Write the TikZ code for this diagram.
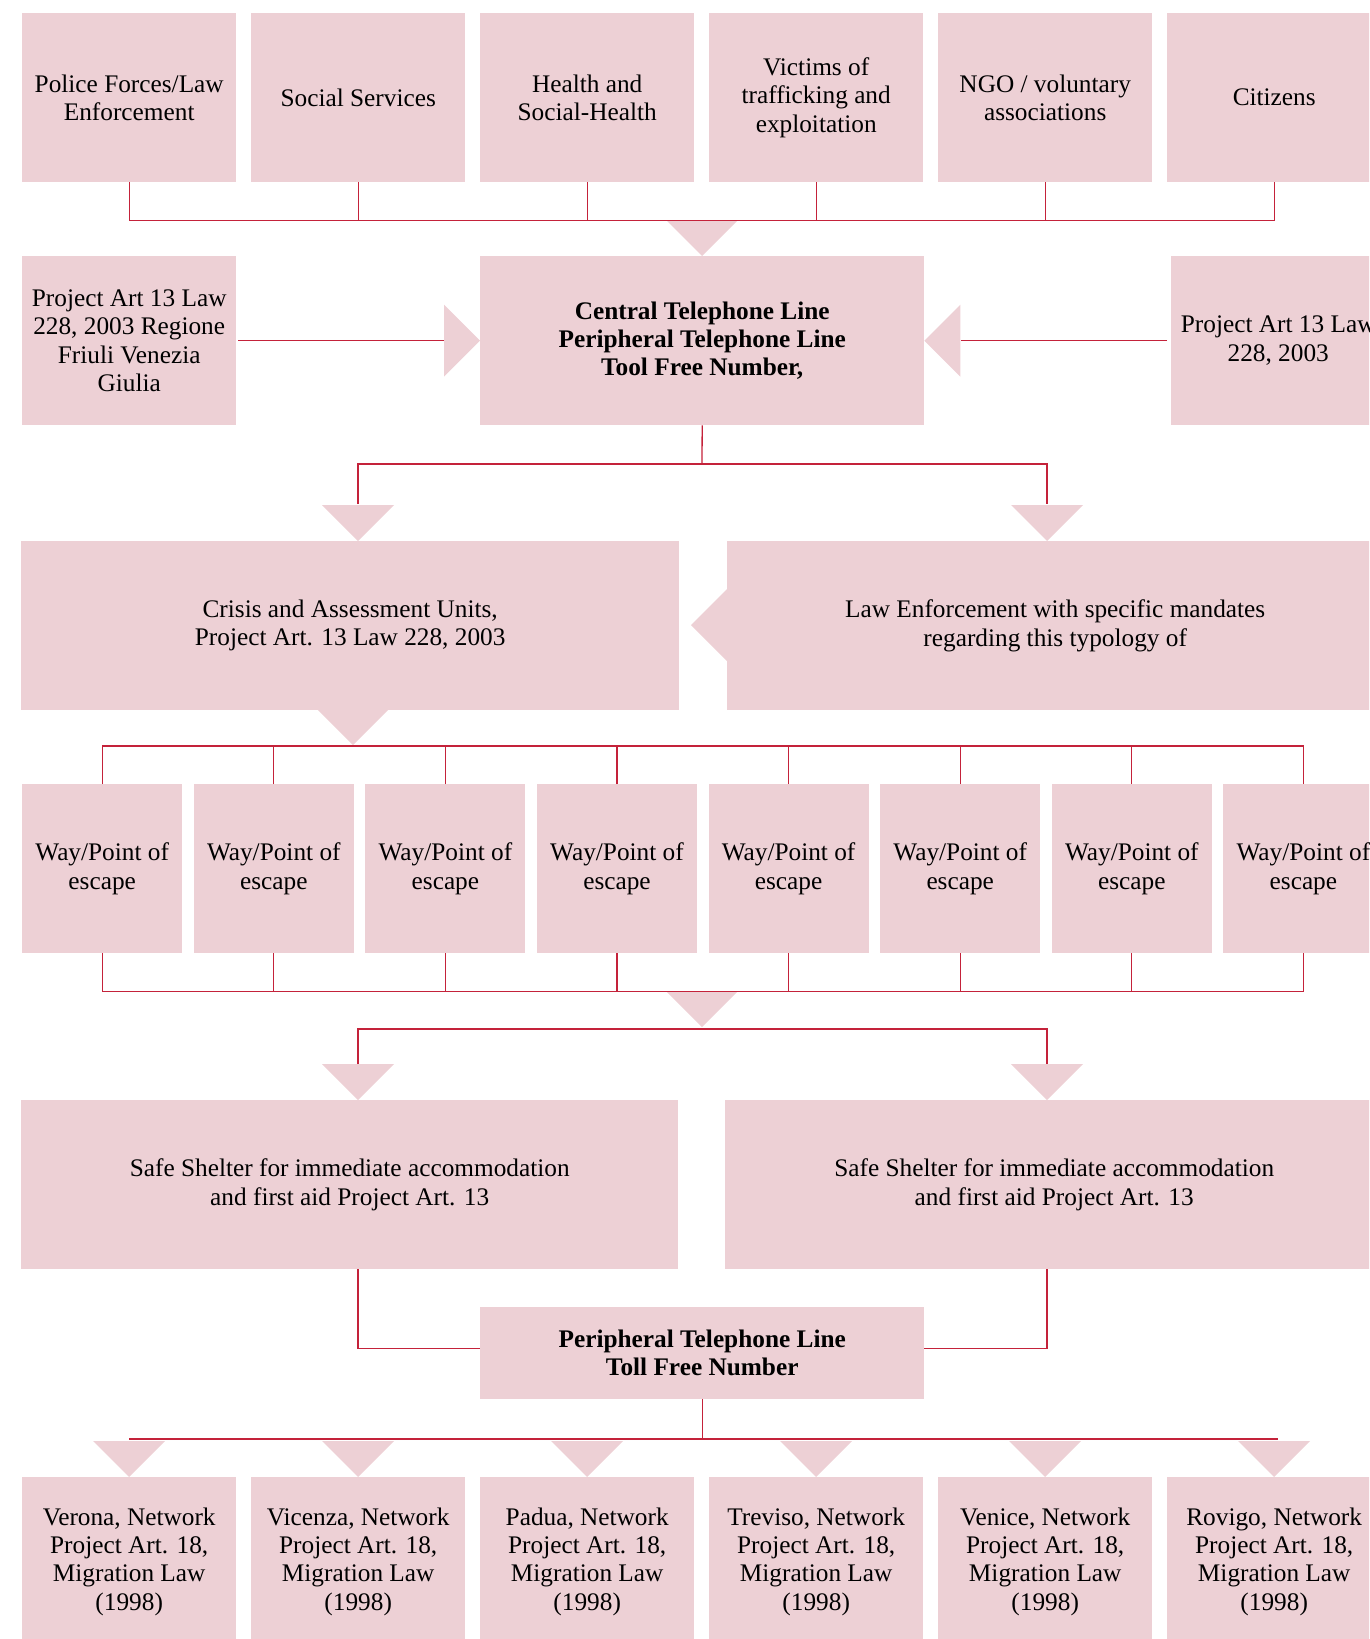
\documentclass[tikz,border=0pt]{standalone}
\usepackage{fontspec}
\setmainfont{Liberation Serif}
\usetikzlibrary{calc}
\definecolor{boxpink}{RGB}{237,208,213}
\definecolor{linkred}{RGB}{196,34,58}

% filled triangular arrow heads, given by their tip
\newcommand\tipdown[1]{\fill[tri] (#1) -- ++(-36,-36) -- ++(72,0) -- cycle;}
\newcommand\tipright[1]{\fill[tri] (#1) -- ++(-36,-36) -- ++(0,72) -- cycle;}
\newcommand\tipleft[1]{\fill[tri] (#1) -- ++(36,-36) -- ++(0,72) -- cycle;}
\newcommand\boxfont{\fontsize{25.3}{28.3}\selectfont}

\begin{document}
\begin{tikzpicture}[x=1pt,y=-1pt,
  box/.style={fill=boxpink, inner sep=0pt, anchor=north west, align=center,
              font=\boxfont},
  wide/.style={box, minimum width=214pt, minimum height=169pt},
  link/.style={draw=linkred, line width=1.3pt},
  tri/.style={fill=boxpink}]
\useasboundingbox (0,0) rectangle (1369,1639);
\clip (0,0) rectangle (1369,1639);

% --- first row: who calls
\node[wide] (t1) at (22,13)   {Police Forces/Law\\Enforcement};
\node[wide] (t2) at (251,13)  {Social Services};
\node[wide] (t3) at (480,13)  {Health and\\Social-Health};
\node[wide] (t4) at (709,13)  {Victims of\\trafficking and\\exploitation};
\node[wide] (t5) at (938,13)  {NGO / voluntary\\associations};
\node[wide] (t6) at (1167,13) {Citizens};

% --- telephone line row
\node[wide] (p1) at (22,256) {Project Art 13 Law\\228, 2003 Regione\\Friuli Venezia\\Giulia};
\node[box, minimum width=444pt, minimum height=169pt, font=\boxfont\bfseries]
  (central) at (480,256) {Central Telephone Line\\Peripheral Telephone Line\\Tool Free Number,};
\node[wide] (p2) at (1171,256) {Project Art 13 Law\\228, 2003};

% --- units row
\node[box, minimum width=658pt, minimum height=169pt] (crisis) at (21,541)
  {Crisis and Assessment Units,\\Project Art. 13 Law 228, 2003};
\node[box, minimum width=656pt, minimum height=169pt] (law) at (727,541)
  {Law Enforcement with specific mandates\\regarding this typology of};

% --- ways of escape
\foreach \i in {1,...,8}
  \node[box, minimum width=160pt, minimum height=169pt] (w\i) at ({22+171.6*(\i-1)},784)
    {Way/Point of\\escape};

% --- shelters
\node[box, minimum width=657pt, minimum height=169pt] (shL) at (21,1100)
  {Safe Shelter for immediate accommodation\\and first aid Project Art. 13};
\node[box, minimum width=658pt, minimum height=169pt] (shR) at (725,1100)
  {Safe Shelter for immediate accommodation\\and first aid Project Art. 13};

\node[box, minimum width=444pt, minimum height=92pt, font=\boxfont\bfseries]
  (periph) at (480,1307) {Peripheral Telephone Line\\Toll Free Number};

% --- networks
\node[wide] (b1) at (22,1477)   {Verona, Network\\Project Art. 18,\\Migration Law\\(1998)};
\node[wide] (b2) at (251,1477)  {Vicenza, Network\\Project Art. 18,\\Migration Law\\(1998)};
\node[wide] (b3) at (480,1477)  {Padua, Network\\Project Art. 18,\\Migration Law\\(1998)};
\node[wide] (b4) at (709,1477)  {Treviso, Network\\Project Art. 18,\\Migration Law\\(1998)};
\node[wide] (b5) at (938,1477)  {Venice, Network\\Project Art. 18,\\Migration Law\\(1998)};
\node[wide] (b6) at (1167,1477) {Rovigo, Network\\Project Art. 18,\\Migration Law\\(1998)};

% --- branch points
\coordinate (split1) at (702,464);
\coordinate (crisisin) at (358,504);
\coordinate (lawin) at (1047,504);
\coordinate (crisistip) at (358,541);
\coordinate (lawtip) at (1047,541);
\coordinate (crisisout) at (353,745);
\coordinate (waysout) at (702,1027);
\coordinate (shLin) at (358,1064);
\coordinate (shRin) at (1047,1064);
\coordinate (shLtip) at (358,1100);
\coordinate (shRtip) at (1047,1100);
\coordinate (lawside) at (691,625);

% --- arrow heads
\tipdown{central.north}
\tipright{central.west}
\tipleft{central.east}
\tipdown{crisistip}
\tipdown{lawtip}
\tipleft{lawside}
\tipdown{crisisout}
\tipdown{waysout}
\tipdown{shLtip}
\tipdown{shRtip}
\foreach \i in {1,...,6} {\tipdown{b\i.north}}

% --- connectors
\draw[link] (t1.south) -- ++(0,38) -| (t6.south);
\foreach \i in {2,...,5} \draw[link] (t\i.south) -- ++(0,38);

\draw[link] (p1.east) ++(2,0) -- ($(central.west)+(-36,0)$);
\draw[link] (p2.west) ++(-4,0) -- ($(central.east)+(37,0)$);

\draw[link] (central.south) -- (split1);
\draw[link] (crisisin) |- (split1) -| (lawin);

\draw[link] (w1.north) -- ++(0,-38) -| (w8.north);
\foreach \i in {2,...,7} \draw[link] (w\i.north) -- ++(0,-38);
\draw[link] (w1.south) -- ++(0,38) -| (w8.south);
\foreach \i in {2,...,7} \draw[link] (w\i.south) -- ++(0,38);

\draw[link] (shLin) -- ++(0,-35) -| (shRin);

\draw[link] (shL.south -| shLin) |- ($(periph.west)+(0,-5)$);
\draw[link] (shR.south -| shRin) |- ($(periph.east)+(0,-5)$);

\draw[link] (periph.south) -- ++(0,40);
\draw[link] ($(b1.north)+(0,-38)$) -- ($(b6.north)+(4,-38)$);
\end{tikzpicture}
\end{document}
